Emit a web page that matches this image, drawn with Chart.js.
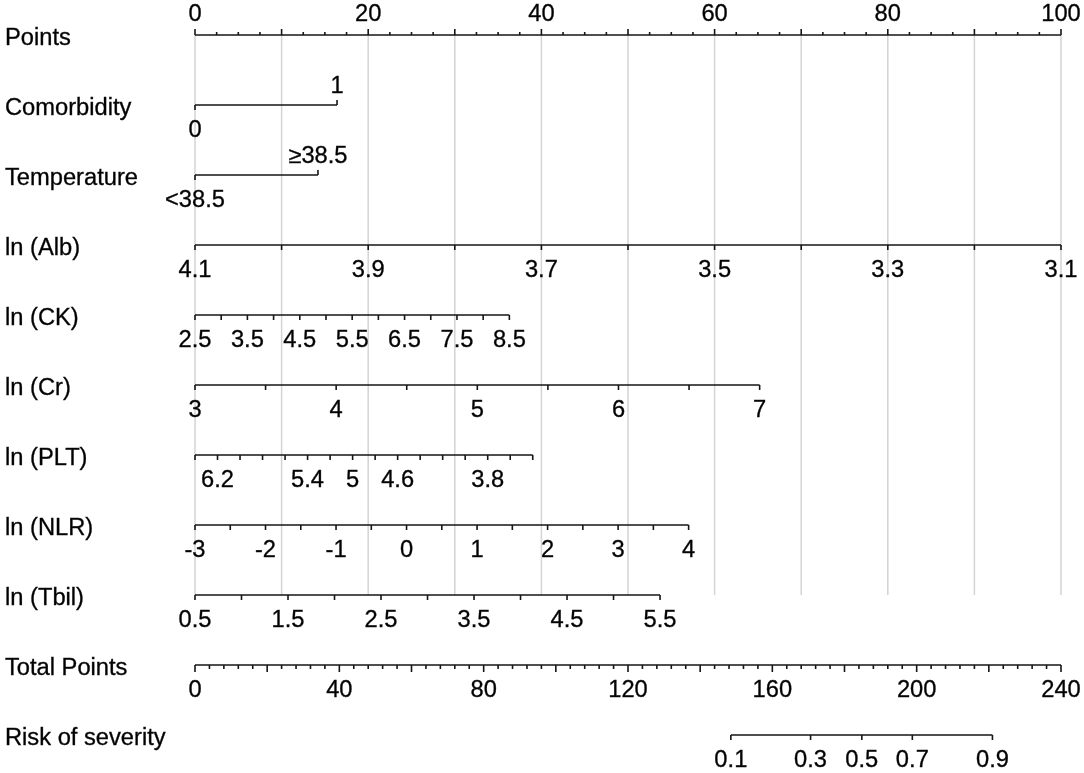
<!DOCTYPE html>
<html lang="en">
<head>
<meta charset="UTF-8">
<title>Nomogram - risk of severity</title>
<script src="https://cdn.jsdelivr.net/npm/chart.js"></script>
<style>
  html, body { margin: 0; padding: 0; background: #fff; }
  canvas { display: block; }
</style>
</head>
<body>
<canvas id="nomogram" width="1084" height="773"></canvas>
<script>
// rows, top to bottom
const rowNames = ['Points', 'Comorbidity', 'Temperature', 'ln (Alb)', 'ln (CK)', 'ln (Cr)',
                  'ln (PLT)', 'ln (NLR)', 'ln (Tbil)', 'Total Points', 'Risk of severity'];

// points scale (0-100)
const pointsLabels = [0, 20, 40, 60, 80, 100];
const pointsMinorStep = 2.5;
const pointsMajorStep = 10;
const pointsGrid = [0, 10, 20, 30, 40, 50, 60, 70, 80, 90, 100];

// categorical predictors
const comorbLabels = ['0', '1'];
const comorbPoints = [0, 16.4];
const tempLabels = ['<38.5', '\u226538.5'];
const tempPoints = [0, 14.2];

// continuous predictors: value range, matching points, tick step, labelled values
const albRange = [4.1, 3.1];  const albPoints = [0, 100];   const albStep = 0.1;
const albLabels = [4.1, 3.9, 3.7, 3.5, 3.3, 3.1];
const ckRange = [2.5, 8.5];   const ckPoints = [0, 36.3];   const ckStep = 0.5;
const ckLabels = [2.5, 3.5, 4.5, 5.5, 6.5, 7.5, 8.5];
const crRange = [3, 7];       const crPoints = [0, 65.2];   const crStep = 0.5;
const crLabels = [3, 4, 5, 6, 7];
const pltRange = [6.4, 3.4];  const pltPoints = [0, 39.0];  const pltStep = 0.2;
const pltLabels = [6.2, 5.4, 5, 4.6, 3.8];
const nlrRange = [-3, 4];     const nlrPoints = [0, 57.0];  const nlrStep = 0.5;
const nlrLabels = [-3, -2, -1, 0, 1, 2, 3, 4];
const tbilRange = [0.5, 5.5]; const tbilPoints = [0, 53.7]; const tbilStep = 0.5;
const tbilLabels = [0.5, 1.5, 2.5, 3.5, 4.5, 5.5];

// total points (0-240)
const totalLabels = [0, 40, 80, 120, 160, 200, 240];
const totalMinorStep = 4;
const totalMajorStep = 20;

// risk of severity, placed on the total points scale
const riskLabels = ['0.1', '0.3', '0.5', '0.7', '0.9'];
const riskTotal = [148.5, 170.6, 184.8, 198.8, 221.0];

const continuous = [
  { row: 3, range: albRange, pts: albPoints, step: albStep, labels: albLabels },
  { row: 4, range: ckRange, pts: ckPoints, step: ckStep, labels: ckLabels },
  { row: 5, range: crRange, pts: crPoints, step: crStep, labels: crLabels },
  { row: 6, range: pltRange, pts: pltPoints, step: pltStep, labels: pltLabels },
  { row: 7, range: nlrRange, pts: nlrPoints, step: nlrStep, labels: nlrLabels },
  { row: 8, range: tbilRange, pts: tbilPoints, step: tbilStep, labels: tbilLabels }
];
const categorical = [
  { row: 1, labels: comorbLabels, pts: comorbPoints },
  { row: 2, labels: tempLabels, pts: tempPoints }
];

function toPoints(v, range, pts) {
  return pts[0] + (v - range[0]) / (range[1] - range[0]) * (pts[1] - pts[0]);
}
function tickValues(range, step) {
  const n = Math.round(Math.abs(range[1] - range[0]) / step);
  const dir = range[1] > range[0] ? 1 : -1;
  const out = [];
  for (let i = 0; i <= n; i++) out.push(range[0] + dir * i * step);
  return out;
}

const LINE = '#151515';
const GRID = '#d4d4d4';
const FONT = '23px "Liberation Sans", Arial, sans-serif';
const HS = 1.03; // reference text is drawn a little wide

function segment(x0, x1, row, axis) {
  return {
    data: [{ x: x0, y: row }, { x: x1, y: row }],
    xAxisID: axis || 'x',
    borderColor: LINE, borderWidth: 1.6,
    showLine: true, pointRadius: 0, clip: false, order: 1
  };
}

const datasets = [];
// vertical grey guide lines from Points down to ln (Tbil)
const gridData = [];
pointsGrid.forEach(v => { gridData.push({ x: v, y: 0 }, { x: v, y: 8 }, { x: v, y: null }); });
datasets.push({ data: gridData, borderColor: GRID, borderWidth: 1.5, showLine: true,
                spanGaps: false, pointRadius: 0, clip: false, order: 5 });
datasets.push(segment(0, 100, 0));
categorical.forEach(c => datasets.push(segment(c.pts[0], c.pts[1], c.row)));
continuous.forEach(c => datasets.push(segment(c.pts[0], c.pts[1], c.row)));
datasets.push(segment(0, 240, 9, 'xt'));
datasets.push(segment(riskTotal[0], riskTotal[riskTotal.length - 1], 10, 'xt'));

function txt(ctx, s, x, y, align) {
  ctx.save();
  ctx.translate(x, y);
  ctx.scale(HS, 1);
  ctx.textAlign = align;
  ctx.fillText(s, 0, 0);
  ctx.strokeText(s, 0, 0);
  ctx.restore();
}
function tick(ctx, x, y, len) {
  ctx.beginPath();
  ctx.moveTo(x, y);
  ctx.lineTo(x, y + len);
  ctx.stroke();
}

const nomogramMarks = {
  id: 'nomogramMarks',
  afterDatasetsDraw(chart) {
    const { ctx, scales } = chart;
    const X = v => scales.x.getPixelForValue(v);
    const XT = v => scales.xt.getPixelForValue(v);
    const Y = r => scales.y.getPixelForValue(r);
    ctx.save();
    ctx.strokeStyle = LINE;
    ctx.fillStyle = '#000';
    ctx.font = FONT;
    ctx.textBaseline = 'middle';

    // text gets a hairline stroke to match the heavier reference glyphs
    ctx.lineWidth = 0.35;
    rowNames.forEach((name, i) => txt(ctx, name, 5, Y(i) + 4, 'left'));
    pointsLabels.forEach(v => txt(ctx, String(v), X(v), Y(0) - 20, 'center'));
    categorical.forEach(c => {
      txt(ctx, c.labels[0], X(c.pts[0]), Y(c.row) + 26, 'center');
      txt(ctx, c.labels[1], X(c.pts[1]), Y(c.row) - 18, 'center');
    });
    continuous.forEach(c => {
      c.labels.forEach(v => txt(ctx, String(v), X(toPoints(v, c.range, c.pts)), Y(c.row) + 26, 'center'));
    });
    totalLabels.forEach(v => txt(ctx, String(v), XT(v), Y(9) + 26, 'center'));
    riskTotal.forEach((v, i) => txt(ctx, riskLabels[i], XT(v), Y(10) + 26, 'center'));

    ctx.lineWidth = 1.6;
    // Points ticks point up toward the labels
    tickValues([0, 100], pointsMinorStep).forEach(v => {
      tick(ctx, X(v), Y(0), v % pointsMajorStep === 0 ? -6 : -3);
    });
    categorical.forEach(c => {
      tick(ctx, X(c.pts[0]), Y(c.row), 5);
      tick(ctx, X(c.pts[1]), Y(c.row), -5);
    });
    continuous.forEach(c => {
      tickValues(c.range, c.step).forEach(v => tick(ctx, X(toPoints(v, c.range, c.pts)), Y(c.row), 5));
    });
    tickValues([0, 240], totalMinorStep).forEach(v => {
      tick(ctx, XT(v), Y(9), v % totalMajorStep === 0 ? 7 : 4);
    });
    riskTotal.forEach(v => tick(ctx, XT(v), Y(10), 5));
    ctx.restore();
  }
};

new Chart(document.getElementById('nomogram').getContext('2d'), {
  type: 'scatter',
  data: { datasets: datasets },
  options: {
    responsive: false,
    animation: false,
    devicePixelRatio: 1,
    layout: { padding: { left: 195, right: 23, top: 35, bottom: 38 } },
    scales: {
      x: { type: 'linear', min: 0, max: 100, display: false },
      xt: { type: 'linear', axis: 'x', min: 0, max: 240, display: false },
      y: { type: 'linear', min: 0, max: 10, reverse: true, display: false }
    },
    plugins: { legend: { display: false }, tooltip: { enabled: false } }
  },
  plugins: [nomogramMarks]
});
</script>
</body>
</html>
